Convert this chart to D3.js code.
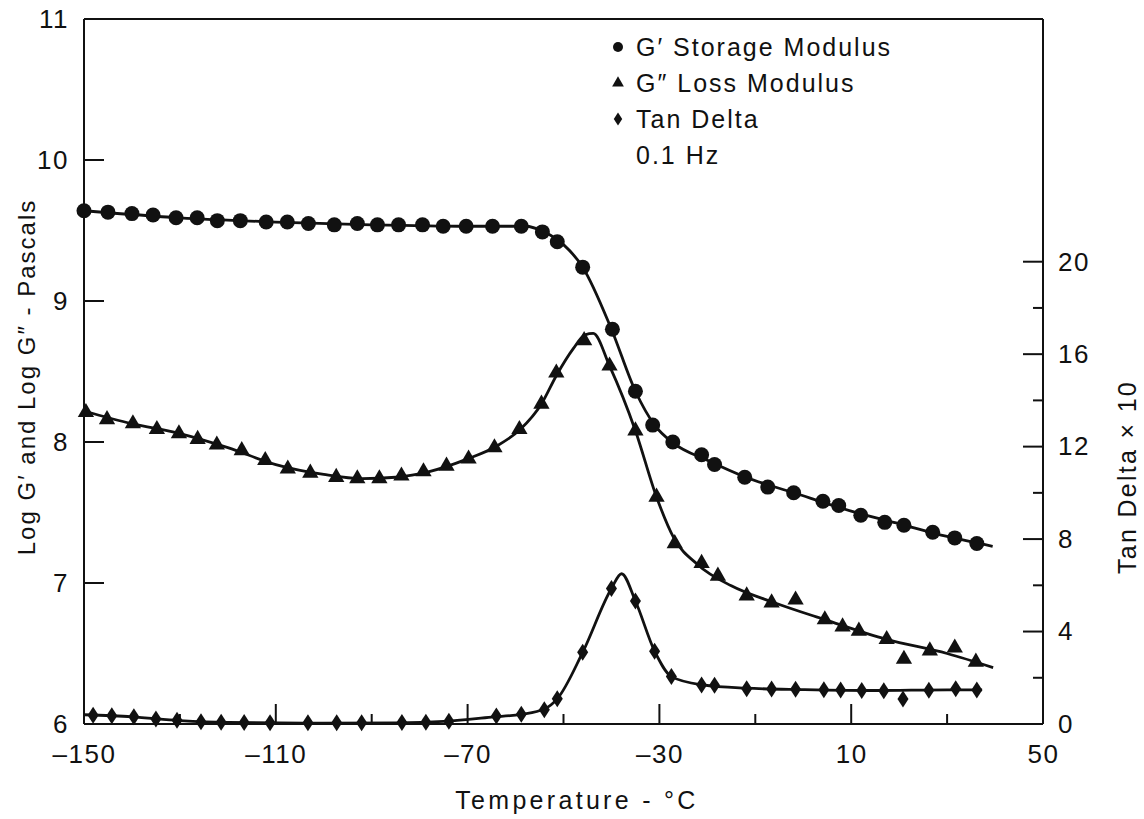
<!DOCTYPE html>
<html>
<head>
<meta charset="utf-8">
<script src="https://cdn.jsdelivr.net/npm/d3@7"></script>
<style>
  body { margin: 0; background: #fff; }
  svg text { font-family: "Liberation Sans", Arial, Helvetica, sans-serif; fill: #111; }
</style>
</head>
<body>
<svg id="chart" width="1144" height="819"></svg>
<script>
// ---------- axis ticks ----------
const xTicks = [-150, -110, -70, -30, 10, 50];
const xMinorTicks = [-130, -90, -50, -10, 30];
const yLeftTicks = [6, 7, 8, 9, 10, 11];
const yRightTicks = [0, 4, 8, 12, 16, 20];
const yRightMinorTicks = [2, 6, 10, 14, 18];

// ---------- G' storage modulus (log Pa) ----------
const storageTemp = [-150, -145, -140, -135.6, -130.8, -126.4, -122.2, -117.4, -112, -107.6,
  -103.2, -97.8, -93, -88.8, -84.4, -79.4, -75.1, -70.3, -64.8, -58.8,
  -54.4, -51.3, -46, -39.8, -35, -31.4, -27.2, -21.2, -18.5, -12.2,
  -7.4, -2, 4.1, 7.4, 12, 17, 21, 27, 31.6, 36.2];
const storageLog = [9.64, 9.63, 9.62, 9.61, 9.59, 9.59, 9.57, 9.57, 9.56, 9.56,
  9.55, 9.54, 9.55, 9.54, 9.54, 9.54, 9.53, 9.53, 9.53, 9.53,
  9.49, 9.42, 9.24, 8.80, 8.36, 8.12, 8.00, 7.91, 7.84, 7.75,
  7.68, 7.64, 7.58, 7.55, 7.48, 7.43, 7.41, 7.36, 7.32, 7.28];
const storageFitTemp = [-150, -130, -110, -90, -70, -58, -54, -50, -46, -40, -35, -31, -27, -20, -12, -2, 10, 20, 30, 39.5];
const storageFitLog  = [9.64, 9.59, 9.56, 9.54, 9.53, 9.53, 9.49, 9.40, 9.24, 8.80, 8.36, 8.12, 7.99, 7.87, 7.75, 7.64, 7.51, 7.42, 7.33, 7.26];

// ---------- G'' loss modulus (log Pa) ----------
const lossTemp = [-149.6, -145.2, -139.8, -134.8, -130.2, -126.3, -122.3, -117.1, -112.2, -107.5,
  -102.8, -97.4, -93, -88.4, -83.8, -79.2, -74.4, -69.8, -64.4, -59.2,
  -54.6, -51.5, -45.7, -40.4, -35, -30.6, -26.8, -21.2, -17.8, -11.8,
  -6.6, -1.6, 4.5, 8.2, 11.6, 17.4, 21, 26.4, 31.6, 36];
const lossLog = [8.21, 8.16, 8.13, 8.09, 8.06, 8.02, 7.98, 7.94, 7.87, 7.81,
  7.78, 7.75, 7.74, 7.74, 7.76, 7.79, 7.83, 7.88, 7.96, 8.09,
  8.27, 8.49, 8.72, 8.54, 8.08, 7.61, 7.28, 7.14, 7.05, 6.91,
  6.86, 6.88, 6.74, 6.69, 6.66, 6.60, 6.46, 6.52, 6.54, 6.44];
const lossFitTemp = [-150, -140, -130, -120, -110, -100, -92, -85, -78, -70, -64, -59, -54.6, -51.5, -48, -45.5, -43.8, -40.4, -35, -30.6, -27, -22, -15, -6, 4.5, 17.4, 30, 39.6];
const lossFitLog  = [8.22, 8.13, 8.06, 7.96, 7.84, 7.77, 7.74, 7.75, 7.79, 7.88, 7.97, 8.09, 8.27, 8.47, 8.66, 8.76, 8.77, 8.54, 8.08, 7.61, 7.32, 7.13, 6.98, 6.86, 6.74, 6.60, 6.50, 6.40];

// ---------- Tan delta x 10 ----------
const tanTemp = [-148.1, -144.2, -139.6, -135, -130.6, -125.6, -121.4, -116.6, -111.2, -103.3,
  -97.3, -92.1, -83.7, -78.7, -73.9, -64, -58.8, -54, -51.3, -46,
  -40, -35, -31, -27.5, -21.2, -18.5, -11.8, -6.6, -1.6, 4.3,
  7.8, 12.2, 16.8, 20.8, 26.2, 31.8, 36.2];
const tanDelta10 = [0.38, 0.36, 0.31, 0.22, 0.16, 0.10, 0.08, 0.07, 0.05, 0.05,
  0.05, 0.05, 0.06, 0.08, 0.12, 0.35, 0.42, 0.62, 1.09, 3.10,
  5.86, 5.32, 3.15, 2.05, 1.69, 1.68, 1.53, 1.51, 1.50, 1.48,
  1.47, 1.45, 1.44, 1.08, 1.46, 1.53, 1.47];
const tanFitTemp = [-150, -140, -130, -120, -100, -85, -75, -65, -58.8, -54, -51.3, -46, -40, -37.9, -35, -31, -27.5, -21, -12, 0, 15, 30, 37.3];
const tanFitVal  = [0.40, 0.31, 0.15, 0.07, 0.04, 0.05, 0.11, 0.30, 0.42, 0.65, 1.09, 3.10, 5.86, 6.50, 5.32, 3.15, 2.05, 1.69, 1.55, 1.49, 1.45, 1.48, 1.48];

const legendLabels = ["G\u2032 Storage Modulus", "G\u2033 Loss Modulus", "Tan Delta", "0.1 Hz"];
const xTitle = "Temperature - \u00B0C";
const yLeftTitle = "Log G\u2032 and Log G\u2033 - Pascals";
const yRightTitle = "Tan Delta \u00D7 10";

// ---------- layout ----------
const plotL = 84, plotR = 1043, plotT = 19, plotB = 724;
const majorLen = 20, minorLen = 10;
const ink = "#111";
const svg = d3.select("#chart");

const x = d3.scaleLinear().domain([-150, 50]).range([plotL, plotR]);
const yL = d3.scaleLinear().domain([6, 11]).range([plotB, plotT]);
const yR = d3.scaleLinear().domain([0, 30.5]).range([plotB, plotT]);

const zip = (a, b) => a.map((t, i) => ({ t, v: b[i] }));
const storage = zip(storageTemp, storageLog);
const loss = zip(lossTemp, lossLog);
const tan = zip(tanTemp, tanDelta10);

// ---------- frame ----------
const frame = svg.append("g").attr("stroke", ink).attr("stroke-width", 2).attr("fill", "none");
frame.append("line").attr("x1", plotL).attr("x2", plotR).attr("y1", plotT).attr("y2", plotT);
frame.append("line").attr("x1", plotL).attr("x2", plotR).attr("y1", plotB).attr("y2", plotB);
frame.append("line").attr("x1", plotL).attr("x2", plotL).attr("y1", plotT).attr("y2", plotB);
frame.append("line").attr("x1", plotR).attr("x2", plotR).attr("y1", plotT).attr("y2", plotB);

// ---------- inward ticks ----------
const tk = svg.append("g").attr("stroke", ink).attr("stroke-width", 2);
tk.selectAll(".xmaj").data(xTicks.slice(1, -1)).join("line").attr("class", "xmaj")
  .attr("x1", d => x(d)).attr("x2", d => x(d)).attr("y1", plotB).attr("y2", plotB - majorLen);
tk.selectAll(".xmin").data(xMinorTicks).join("line").attr("class", "xmin")
  .attr("x1", d => x(d)).attr("x2", d => x(d)).attr("y1", plotB).attr("y2", plotB - minorLen);
tk.selectAll(".ylmaj").data(yLeftTicks.slice(1, -1)).join("line").attr("class", "ylmaj")
  .attr("x1", plotL).attr("x2", plotL + majorLen).attr("y1", d => yL(d)).attr("y2", d => yL(d));
tk.selectAll(".yrmaj").data(yRightTicks.slice(1)).join("line").attr("class", "yrmaj")
  .attr("x1", plotR).attr("x2", plotR - majorLen).attr("y1", d => yR(d)).attr("y2", d => yR(d));
tk.selectAll(".yrmin").data(yRightMinorTicks).join("line").attr("class", "yrmin")
  .attr("x1", plotR).attr("x2", plotR - minorLen).attr("y1", d => yR(d)).attr("y2", d => yR(d));

// ---------- tick labels via d3 axes ----------
function styleAxis(g) {
  g.select("path.domain").remove();
  g.selectAll(".tick line").remove();
  g.selectAll("text").attr("font-size", 26).attr("fill", ink).style("letter-spacing", "1.5px")
    .attr("font-family", "'Liberation Sans', Arial, sans-serif");
}
svg.append("g").attr("transform", `translate(0,${plotB})`)
  .call(d3.axisBottom(x).tickValues(xTicks).tickSize(0).tickPadding(21)
    .tickFormat(d => d < 0 ? "\u2013" + Math.abs(d) : String(d)))
  .call(styleAxis);
svg.append("g").attr("transform", `translate(${plotL},0)`)
  .call(d3.axisLeft(yL).tickValues(yLeftTicks).tickSize(0).tickPadding(15).tickFormat(d3.format("d")))
  .call(styleAxis);
svg.append("g").attr("transform", `translate(${plotR},0)`)
  .call(d3.axisRight(yR).tickValues(yRightTicks).tickSize(0).tickPadding(15).tickFormat(d3.format("d")))
  .call(styleAxis);

// ---------- titles ----------
svg.append("text").attr("x", 577).attr("y", 800)
  .attr("text-anchor", "middle").attr("dominant-baseline", "central")
  .attr("font-size", 25).style("letter-spacing", "3.3px").text(xTitle);
svg.append("text").attr("transform", `translate(26,377) rotate(-90)`)
  .attr("text-anchor", "middle").attr("dominant-baseline", "central")
  .attr("font-size", 24).style("letter-spacing", "2px").text(yLeftTitle);
svg.append("text").attr("transform", `translate(1127,477) rotate(-90)`)
  .attr("text-anchor", "middle").attr("dominant-baseline", "central")
  .attr("font-size", 25).style("letter-spacing", "2.3px").text(yRightTitle);

// ---------- curves ----------
const lineL = d3.line().x(d => x(d.t)).y(d => yL(d.v)).curve(d3.curveMonotoneX);
const lineR = d3.line().x(d => x(d.t)).y(d => yR(d.v)).curve(d3.curveMonotoneX);
svg.append("path").datum(zip(storageFitTemp, storageFitLog)).attr("d", lineL)
  .attr("fill", "none").attr("stroke", ink).attr("stroke-width", 2.8);
svg.append("path").datum(zip(lossFitTemp, lossFitLog)).attr("d", lineL)
  .attr("fill", "none").attr("stroke", ink).attr("stroke-width", 2.8);
svg.append("path").datum(zip(tanFitTemp, tanFitVal)).attr("d", lineR)
  .attr("fill", "none").attr("stroke", ink).attr("stroke-width", 2.8);

// ---------- markers ----------
const diamondTall = {
  draw(ctx, size) {
    const h = Math.sqrt(size / 1.3), w = h * 0.65;
    ctx.moveTo(0, -h); ctx.lineTo(w, 0); ctx.lineTo(0, h); ctx.lineTo(-w, 0); ctx.closePath();
  }
};
const circleSym = d3.symbol().type(d3.symbolCircle).size(Math.PI * 7.5 * 7.5);
const triSym = d3.symbol().type(d3.symbolTriangle).size(115);
const diaSym = d3.symbol().type(diamondTall).size(94);

svg.append("g").selectAll("path").data(storage).join("path")
  .attr("transform", d => `translate(${x(d.t)},${yL(d.v)})`).attr("d", circleSym).attr("fill", ink);
svg.append("g").selectAll("path").data(loss).join("path")
  .attr("transform", d => `translate(${x(d.t)},${yL(d.v)})`).attr("d", triSym).attr("fill", ink);
svg.append("g").selectAll("path").data(tan).join("path")
  .attr("transform", d => `translate(${x(d.t)},${yR(d.v)})`).attr("d", diaSym).attr("fill", ink);

// ---------- legend ----------
const legendSyms = [
  d3.symbol().type(d3.symbolCircle).size(Math.PI * 5 * 5),
  d3.symbol().type(d3.symbolTriangle).size(60),
  d3.symbol().type(diamondTall).size(55),
  null
];
const legendX = 618, legendTextX = 636, legendY0 = 47, legendStep = 36;
const lg = svg.append("g");
legendLabels.forEach((lab, i) => {
  const cy = legendY0 + i * legendStep;
  if (legendSyms[i]) {
    lg.append("path").attr("transform", `translate(${legendX},${cy})`).attr("d", legendSyms[i]).attr("fill", ink);
  }
  lg.append("text").attr("x", legendTextX).attr("y", cy).attr("dominant-baseline", "central")
    .attr("font-size", 25).style("letter-spacing", "2px").text(lab);
});
</script>
</body>
</html>
